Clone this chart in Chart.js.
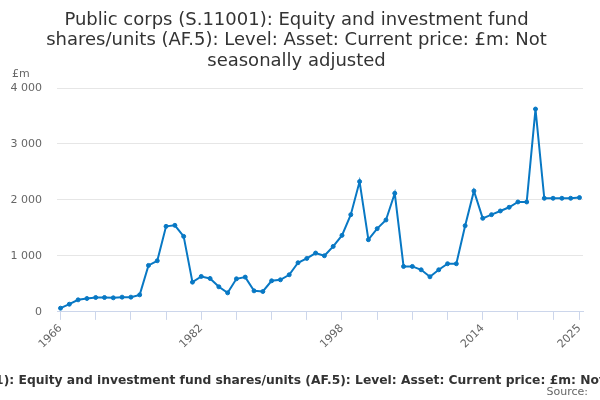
<!DOCTYPE html>
<html>
<head>
<meta charset="utf-8">
<script src="https://cdn.jsdelivr.net/npm/chart.js@4/dist/chart.umd.min.js"></script>
<style>
  html, body { margin: 0; padding: 0; background: #fff; }
  #wrap { width: 600px; height: 400px; position: relative; }
</style>
</head>
<body>
<div id="wrap"><canvas id="myChart"></canvas></div>
<script>
// data set
var years = [1966, 1967, 1968, 1969, 1970, 1971, 1972, 1973, 1974, 1975,
             1976, 1977, 1978, 1979, 1980, 1981, 1982, 1983, 1984, 1985,
             1986, 1987, 1988, 1989, 1990, 1991, 1992, 1993, 1994, 1995,
             1996, 1997, 1998, 1999, 2000, 2001, 2002, 2003, 2004, 2005,
             2006, 2007, 2008, 2009, 2010, 2011, 2012, 2013, 2014, 2015,
             2016, 2017, 2018, 2019, 2020, 2021, 2022, 2023, 2024, 2025];
var values = [66, 137, 215, 239, 257, 257, 251, 263, 263, 304,
              830, 913, 1528, 1546, 1349, 531, 633, 597, 448, 340,
              591, 621, 376, 364, 555, 573, 663, 878, 955, 1051,
              1003, 1170, 1367, 1737, 2328, 1290, 1487, 1642, 2119, 812,
              812, 752, 627, 752, 860, 860, 1540, 2161, 1672, 1737,
              1803, 1869, 1964, 1964, 3624, 2030, 2030, 2030, 2030, 2042];
var tickYears = [1966, 1970, 1974, 1978, 1982, 1986, 1990, 1994, 1998, 2002,
                 2006, 2010, 2014, 2018, 2022, 2025];
var labelYears = [1966, 1982, 1998, 2014, 2025];

var titleLines = ["Public corps (S.11001): Equity and investment fund",
                  "shares/units (AF.5): Level: Asset: Current price: £m: Not",
                  "seasonally adjusted"];
var seriesName = "Public corps (S.11001): Equity and investment fund shares/units (AF.5): Level: Asset: Current price: £m: Not seasonally adjusted";

const FONT = "'DejaVu Sans', sans-serif";

// extra texts: unit, series name and source
const extraText = {
  id: 'extraText',
  afterDraw(chart) {
    const ctx = chart.ctx;
    ctx.save();
    ctx.textBaseline = "middle";
    ctx.font = "11px " + FONT;
    ctx.fillStyle = "#666666";
    ctx.textAlign = "left";
    ctx.fillText("£m", 12, 74);
    ctx.textAlign = "right";
    ctx.fillText("Source:", 588, 392);
    ctx.font = "bold 12.3px " + FONT;
    ctx.fillStyle = "#333333";
    ctx.textAlign = "center";
    ctx.fillText(seriesName, chart.width / 2, 381);
    ctx.restore();
  }
};

function spaced(v) {
  return String(v).replace(/\B(?=(\d{3})+(?!\d))/g, " ");
}

new Chart("myChart", {
  type: "line",
  data: {
    datasets: [{
      label: seriesName,
      data: years.map((y, i) => ({ x: y, y: values[i] })),
      borderColor: "#0878c4",
      backgroundColor: "#0878c4",
      borderWidth: 2,
      pointRadius: 2,
      pointBorderWidth: 1,
      pointHoverRadius: 3,
      lineTension: 0,
      fill: false
    }]
  },
  options: {
    animation: false,
    responsive: true,
    maintainAspectRatio: false,
    layout: { padding: { left: 10, right: 17, top: 6, bottom: 47 } },
    plugins: {
      legend: { display: false },
      tooltip: { enabled: false },
      title: {
        display: true,
        text: titleLines,
        color: "#333333",
        font: { family: FONT, size: 18, weight: "normal", lineHeight: 1.13 },
        padding: { top: 4, bottom: 17 }
      }
    },
    scales: {
      x: {
        type: "linear",
        min: 1965.6,
        max: 2025.4,
        afterBuildTicks: scale => {
          scale.ticks = tickYears.map(v => ({ value: v }));
        },
        border: { color: "#ccd6eb" },
        grid: { drawOnChartArea: false, drawTicks: true, tickLength: 8, color: "#ccd6eb" },
        ticks: {
          autoSkip: false,
          minRotation: 45,
          maxRotation: 45,
          color: "#666666",
          font: { family: FONT, size: 11 },
          padding: 2,
          callback: v => labelYears.includes(v) ? String(v) : ""
        }
      },
      y: {
        min: 0,
        max: 4000,
        afterFit: scale => {
          scale.width = 47;
        },
        border: { display: false },
        grid: { color: "#e6e6e6", drawTicks: false },
        ticks: {
          stepSize: 1000,
          padding: 15,
          color: "#666666",
          font: { family: FONT, size: 11 },
          callback: v => spaced(v)
        }
      }
    }
  },
  plugins: [extraText]
});
</script>
</body>
</html>
